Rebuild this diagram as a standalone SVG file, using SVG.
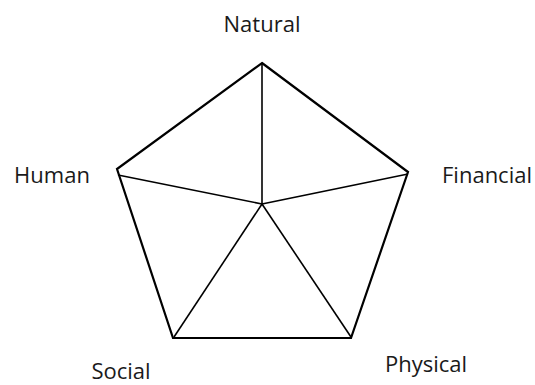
<svg xmlns="http://www.w3.org/2000/svg" width="535" height="385" viewBox="0 0 535 385">
<style>
text{font-family:"Open Sans","Noto Sans",sans-serif;font-size:22px;fill:#1a1a1a}
.outer{fill:none;stroke:#000;stroke-width:2.2;stroke-linejoin:miter}
.spoke{stroke:#000;stroke-width:1.6;fill:none}
</style>
<rect width="535" height="385" fill="#fff"/>
<g id="connectors">
<polygon class="outer" points="262,63 408,172 351,338 173,338 117,169"/>
<line class="spoke" x1="262" y1="63" x2="262" y2="204"/>
<line class="spoke" x1="118" y1="175" x2="262" y2="204"/>
<line class="spoke" x1="408" y1="174" x2="262" y2="204"/>
<line class="spoke" x1="174" y1="337" x2="262" y2="204"/>
<line class="spoke" x1="351" y1="337" x2="262" y2="204"/>
</g>
<g id="natural"><text x="262" y="32" text-anchor="middle">Natural</text></g>
<g id="human"><text x="52" y="183" text-anchor="middle">Human</text></g>
<g id="financial"><text x="487" y="183" text-anchor="middle">Financial</text></g>
<g id="social"><text x="121" y="379" text-anchor="middle">Social</text></g>
<g id="physical"><text x="426" y="372" text-anchor="middle">Physical</text></g>
</svg>
